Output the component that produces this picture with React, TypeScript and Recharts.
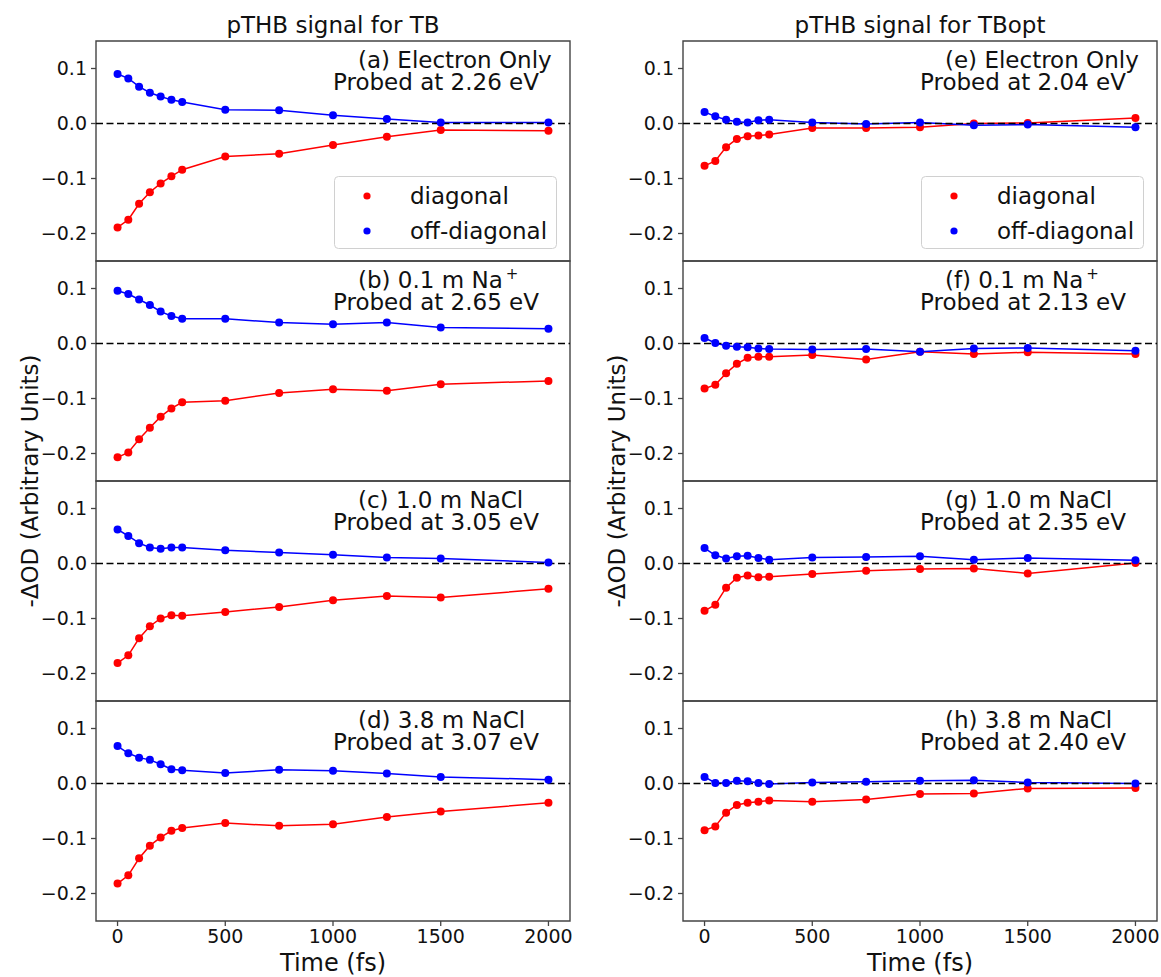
import { LineChart, Line, XAxis, YAxis, ReferenceLine, ReferenceArea, Legend } from 'recharts'

const TIMES = [0, 50, 100, 150, 200, 250, 300, 500, 750, 1000, 1250, 1500, 2000]
const X_TICKS = [0, 500, 1000, 1500, 2000]
const Y_TICKS = [-0.2, -0.1, 0, 0.1]

// TB (left column)
const DIAG_A = [-0.189, -0.175, -0.146, -0.125, -0.109, -0.096, -0.084, -0.060, -0.055, -0.039, -0.024, -0.012, -0.013]
const OFF_A  = [0.090, 0.082, 0.067, 0.056, 0.049, 0.043, 0.039, 0.025, 0.024, 0.015, 0.008, 0.002, 0.002]
const DIAG_B = [-0.207, -0.198, -0.174, -0.153, -0.133, -0.118, -0.107, -0.104, -0.090, -0.083, -0.086, -0.074, -0.068]
const OFF_B  = [0.096, 0.090, 0.080, 0.070, 0.058, 0.050, 0.045, 0.045, 0.038, 0.035, 0.038, 0.029, 0.027]
const DIAG_C = [-0.181, -0.167, -0.136, -0.114, -0.100, -0.094, -0.095, -0.088, -0.079, -0.067, -0.059, -0.062, -0.046]
const OFF_C  = [0.062, 0.050, 0.037, 0.029, 0.027, 0.029, 0.029, 0.024, 0.020, 0.016, 0.011, 0.009, 0.002]
const DIAG_D = [-0.182, -0.167, -0.136, -0.113, -0.098, -0.086, -0.081, -0.072, -0.077, -0.074, -0.061, -0.051, -0.035]
const OFF_D  = [0.068, 0.055, 0.047, 0.043, 0.035, 0.026, 0.024, 0.019, 0.025, 0.023, 0.018, 0.012, 0.007]

// TBopt (right column)
const DIAG_E = [-0.077, -0.068, -0.043, -0.028, -0.023, -0.022, -0.020, -0.008, -0.008, -0.007, 0.000, 0.001, 0.010]
const OFF_E  = [0.021, 0.013, 0.007, 0.003, 0.002, 0.006, 0.007, 0.002, -0.001, 0.002, -0.003, -0.002, -0.007]
const DIAG_F = [-0.082, -0.075, -0.054, -0.037, -0.026, -0.024, -0.024, -0.021, -0.029, -0.015, -0.019, -0.016, -0.019]
const OFF_F  = [0.010, 0.001, -0.004, -0.006, -0.007, -0.009, -0.010, -0.011, -0.010, -0.015, -0.009, -0.008, -0.013]
const DIAG_G = [-0.086, -0.075, -0.044, -0.026, -0.022, -0.025, -0.024, -0.019, -0.013, -0.010, -0.009, -0.018, 0.001]
const OFF_G  = [0.028, 0.015, 0.009, 0.013, 0.014, 0.010, 0.007, 0.011, 0.012, 0.013, 0.007, 0.010, 0.006]
const DIAG_H = [-0.085, -0.078, -0.053, -0.039, -0.035, -0.033, -0.031, -0.033, -0.029, -0.019, -0.018, -0.009, -0.008]
const OFF_H  = [0.012, 0.001, 0.001, 0.005, 0.004, 0.001, -0.001, 0.002, 0.003, 0.005, 0.006, 0.002, 0.000]

const COL_TITLES = ['pTHB signal for TB', 'pTHB signal for TBopt']
const SAMPLES = [
  ['(a) Electron Only', '(b) 0.1 m Na+', '(c) 1.0 m NaCl', '(d) 3.8 m NaCl'],
  ['(e) Electron Only', '(f) 0.1 m Na+', '(g) 1.0 m NaCl', '(h) 3.8 m NaCl'],
]
const PROBE_EV = [
  ['2.26', '2.65', '3.05', '3.07'],
  ['2.04', '2.13', '2.35', '2.40'],
]
const DIAG = [[DIAG_A, DIAG_B, DIAG_C, DIAG_D], [DIAG_E, DIAG_F, DIAG_G, DIAG_H]]
const OFF  = [[OFF_A, OFF_B, OFF_C, OFF_D], [OFF_E, OFF_F, OFF_G, OFF_H]]

const DIAG_COLOR = '#ff0000'
const OFF_COLOR  = '#0000ff'
const FRAME      = '#444'
const TEXT       = '#111'
const FONT       = '"DejaVu Sans", sans-serif'

// figure geometry (px)
const COL_LEFT  = [96, 683]
const PANEL_TOP = [41, 261, 481, 701]
const PLOT_W = 474
const PLOT_H = 220
const Y_AXIS_W = 96
const PAD = 10

const fmtY = (v: number) => (v === 0 ? '0.0' : (v < 0 ? '\u2212' : '') + Math.abs(v).toFixed(1))

function LegendBox({ payload }: { payload?: Array<{ value: string; color: string }> }) {
  if (!payload) return null
  return (
    <svg width={223} height={73} style={{ display: 'block' }}>
      <rect x={0.5} y={0.5} width={222} height={72} rx={4} fill="#fff" fillOpacity={0.8} stroke="#d0d0d0" />
      {payload.map((e, i) => (
        <g key={e.value}>
          <circle cx={33} cy={20 + i * 35} r={3.6} fill={e.color} />
          <text x={76} y={20 + i * 35} dy="0.36em" fontSize={23} fill={TEXT} fontFamily={FONT}>{e.value}</text>
        </g>
      ))}
    </svg>
  )
}

function Panel({ col, row }: { col: number; row: number }) {
  const isBottom = row === 3
  const xAxisH = isBottom ? 40 : 0
  const data = TIMES.map((t, i) => ({ t, diag: DIAG[col][row][i], off: OFF[col][row][i] }))
  return (
    <div style={{ position: 'absolute', left: COL_LEFT[col] - Y_AXIS_W, top: PANEL_TOP[row] - PAD }}>
      <LineChart
        width={Y_AXIS_W + PLOT_W + 4}
        height={PAD + PLOT_H + xAxisH + PAD}
        data={data}
        margin={{ top: PAD, right: 4, bottom: PAD, left: 0 }}
      >
        <XAxis
          dataKey="t" type="number" domain={[-100, 2100]} ticks={X_TICKS} interval={0}
          hide={!isBottom} height={xAxisH || 1} allowDataOverflow
          axisLine={false} tickSize={5} tickMargin={4}
          tickLine={{ stroke: FRAME, strokeWidth: 1.3 }}
          tick={{ fontSize: 19, fill: TEXT, fontFamily: FONT }}
        />
        <YAxis
          type="number" domain={[-0.25, 0.15]} ticks={Y_TICKS} interval={0} width={Y_AXIS_W}
          allowDataOverflow axisLine={false} tickSize={5} tickMargin={4} tickFormatter={fmtY}
          tickLine={{ stroke: FRAME, strokeWidth: 1.3 }}
          tick={{ fontSize: 19, fill: TEXT, fontFamily: FONT }}
        />
        <ReferenceArea x1={-100} x2={2100} y1={-0.25} y2={0.15} fill="none" stroke={FRAME} strokeWidth={1.4} ifOverflow="visible" />
        <Line
          dataKey="diag" name="diagonal" type="linear" stroke={DIAG_COLOR} strokeWidth={1.5}
          dot={{ r: 4, fill: DIAG_COLOR, stroke: DIAG_COLOR, strokeWidth: 0 }} activeDot={false}
          isAnimationActive={false}
        />
        <Line
          dataKey="off" name="off-diagonal" type="linear" stroke={OFF_COLOR} strokeWidth={1.5}
          dot={{ r: 4, fill: OFF_COLOR, stroke: OFF_COLOR, strokeWidth: 0 }} activeDot={false}
          isAnimationActive={false}
        />
        <ReferenceLine y={0} stroke="#000" strokeWidth={1.5} strokeDasharray="7 3.5" />
        {row === 0 && (
          <Legend
            layout="vertical" align="center" verticalAlign="middle"
            wrapperStyle={{ left: Y_AXIS_W + 238, top: PAD + 135, width: 223, height: 73 }}
            content={<LegendBox />}
          />
        )}
      </LineChart>
    </div>
  )
}

function SampleLine({ text, x, y }: { text: string; x: number; y: number }) {
  if (text.endsWith('Na+')) {
    return (
      <text x={x} y={y} fontSize={23} fill={TEXT} fontFamily={FONT}>
        {text.slice(0, -1)}
        <tspan dx={3} dy={-9} fontSize={15}>+</tspan>
      </text>
    )
  }
  return <text x={x} y={y} fontSize={23} fill={TEXT} fontFamily={FONT}>{text}</text>
}

export default function App() {
  return (
    <div style={{ position: 'absolute', left: 0, top: 0, width: 1161, height: 977, background: '#fff', overflow: 'hidden', fontFamily: FONT }}>
      {[0, 1].map(col => [0, 1, 2, 3].map(row => <Panel key={`${col}-${row}`} col={col} row={row} />))}
      <svg width={1161} height={977} style={{ position: 'absolute', left: 0, top: 0, pointerEvents: 'none' }}>
        {[0, 1].map(col => {
          const cx = COL_LEFT[col] + PLOT_W / 2
          return (
            <g key={col}>
              <text x={cx} y={33} textAnchor="middle" fontSize={23} fill={TEXT} fontFamily={FONT}>{COL_TITLES[col]}</text>
              <text x={cx} y={971} textAnchor="middle" fontSize={24} fill={TEXT} fontFamily={FONT}>Time (fs)</text>
              <text
                x={COL_LEFT[col] - 58} y={481} textAnchor="middle" fontSize={23} fill={TEXT} fontFamily={FONT}
                transform={`rotate(-90 ${COL_LEFT[col] - 58} 481)`}
              >
                -ΔOD (Arbitrary Units)
              </text>
              {PANEL_TOP.map((top, row) => (
                <g key={row}>
                  <SampleLine text={SAMPLES[col][row]} x={COL_LEFT[col] + 262} y={top + 27} />
                  <text x={COL_LEFT[col] + 237} y={top + 49} fontSize={23} fill={TEXT} fontFamily={FONT}>
                    Probed at {PROBE_EV[col][row]} eV
                  </text>
                </g>
              ))}
            </g>
          )
        })}
      </svg>
    </div>
  )
}
